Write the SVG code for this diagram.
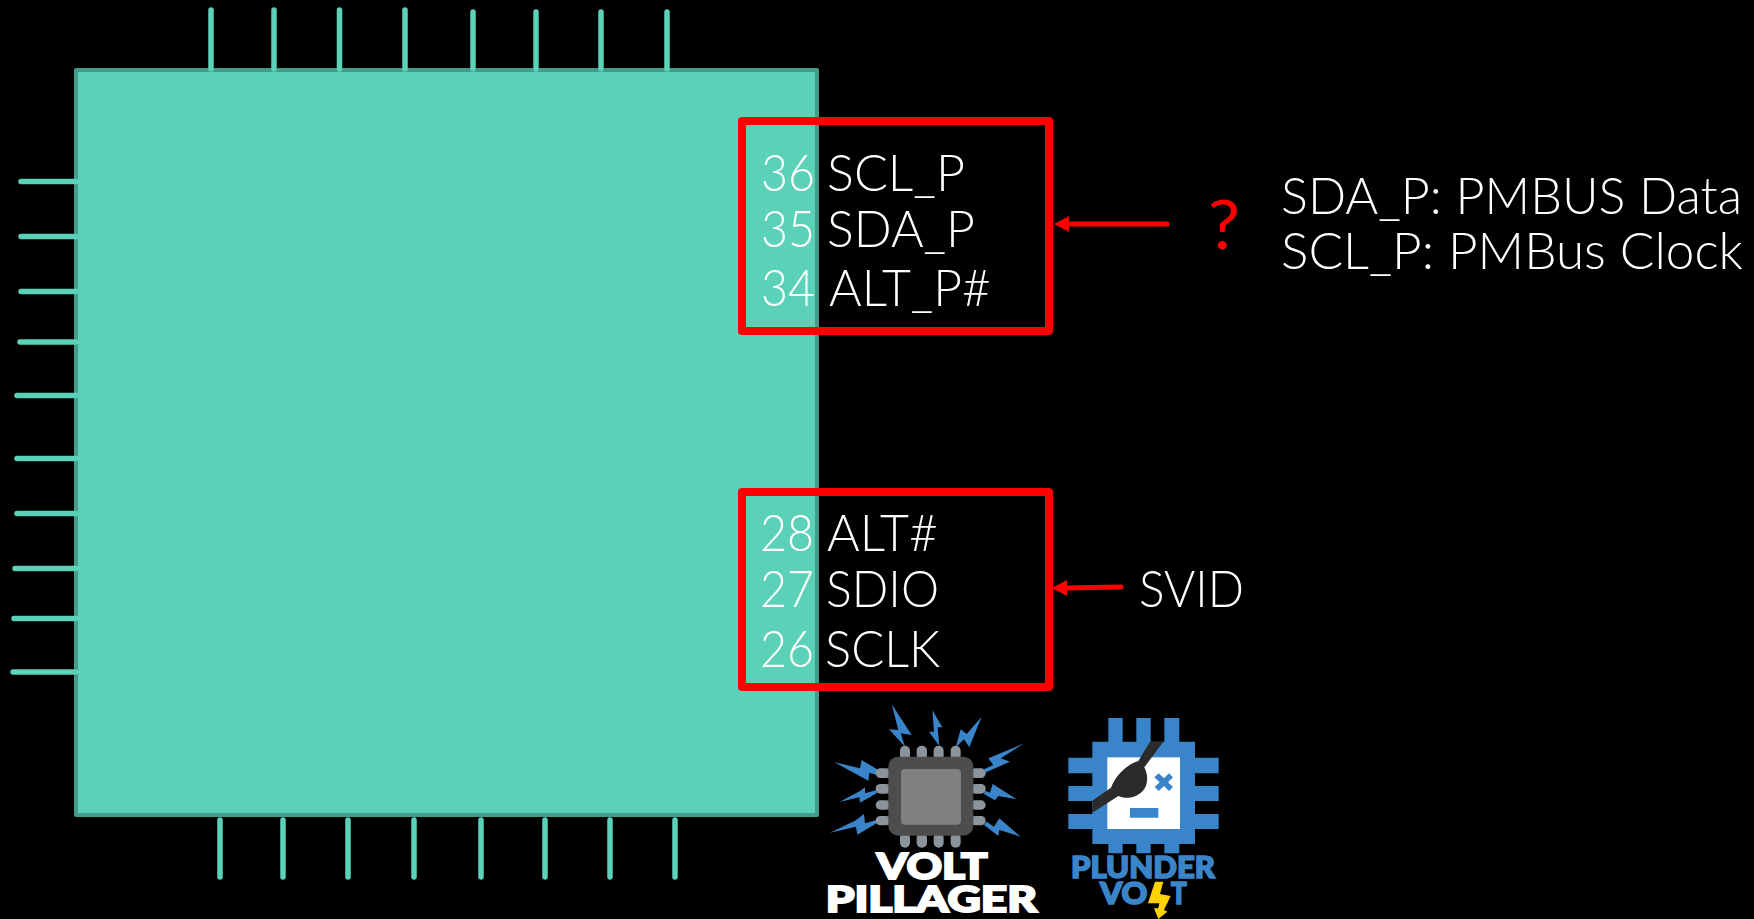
<svg xmlns="http://www.w3.org/2000/svg" width="1754" height="919" viewBox="0 0 1754 919">
<style>
text{font-family:"Lato","Open Sans","Liberation Sans",sans-serif;fill:#fff;font-size:51px;font-weight:300}
.pin{stroke:#5bd1b8;stroke-width:5.500;stroke-linecap:round;fill:none}
.red{stroke:#f00;fill:none}
.b{fill:#3a84c9}
.g{fill:#8c949b}
.k{font-weight:900;font-size:110px}
</style>
<rect width="1754" height="919" fill="#000"/>
<g id="chip">
<rect x="76" y="70" width="741" height="745" fill="#5bd1b8" stroke="#459c8a" stroke-width="4" stroke-linejoin="round"/>
</g>
<g id="pins" class="pin">
<path d="M211 10V69M274 10V69M339.500 10V69M405 10V69M473 12V69M536 12V69M601 12V69M667 12V69"/>
<path d="M220 820V877M283 820V877M348 820V877M414 820V877M481 820V877M545 820V877M610 820V877M675 820V877"/>
<path d="M21 181.500H76M21 236.500H76M21 291.500H76M20 342H76M17 395.500H76M17 458.500H76M17 513.500H76M15 568.500H76M14 618.500H76M13 672H76"/>
</g>
<g id="box-pmbus">
<rect x="742" y="121" width="307" height="210" class="red" stroke-width="8" stroke-linejoin="round"/>
<text x="761" y="191" textLength="54" lengthAdjust="spacingAndGlyphs">36</text>
<text x="761" y="247" textLength="54" lengthAdjust="spacingAndGlyphs">35</text>
<text x="761" y="306" textLength="54" lengthAdjust="spacingAndGlyphs">34</text>
<text x="827" y="191" textLength="138" lengthAdjust="spacingAndGlyphs">SCL_P</text>
<text x="827" y="247" textLength="148" lengthAdjust="spacingAndGlyphs">SDA_P</text>
<text x="829" y="306" textLength="162" lengthAdjust="spacingAndGlyphs">ALT_P#</text>
</g>
<g id="box-svid">
<rect x="742" y="492" width="307" height="195" class="red" stroke-width="8" stroke-linejoin="round"/>
<text x="760" y="551" textLength="54" lengthAdjust="spacingAndGlyphs">28</text>
<text x="760" y="607" textLength="54" lengthAdjust="spacingAndGlyphs">27</text>
<text x="760" y="667" textLength="54" lengthAdjust="spacingAndGlyphs">26</text>
<text x="827" y="551" textLength="111" lengthAdjust="spacingAndGlyphs">ALT#</text>
<text x="826" y="607" textLength="113" lengthAdjust="spacingAndGlyphs">SDIO</text>
<text x="825" y="667" textLength="115" lengthAdjust="spacingAndGlyphs">SCLK</text>
</g>
<g id="connectors">
<path class="red" stroke-width="5" stroke-linecap="round" d="M1167 224H1066"/>
<path fill="#f00" d="M1054 224L1069 216V232Z"/>
<path class="red" stroke-width="5" stroke-linecap="round" d="M1121 587L1066 588"/>
<path fill="#f00" d="M1052 588L1067 580V596Z"/>
</g>
<g id="label-question"><text x="1208" y="249" style="fill:#f00;font-size:68px;font-weight:400" textLength="32" lengthAdjust="spacingAndGlyphs">?</text></g>
<g id="label-svid"><text x="1139" y="607" textLength="105" lengthAdjust="spacingAndGlyphs">SVID</text></g>
<g id="label-pmbus">
<text x="1281" y="214" textLength="461" lengthAdjust="spacingAndGlyphs">SDA_P: PMBUS Data</text>
<text x="1281" y="269" textLength="462" lengthAdjust="spacingAndGlyphs">SCL_P: PMBus Clock</text>
</g>
<g id="logo-voltpillager" transform="translate(810 690) scale(.33333)">
<path class="b" d="M245 42L305 135L272 130L285 170L237 118L265 120ZM367 60L397 112L383 112L388 168L357 125L372 125ZM515 80L478 172L462 148L437 172L452 118L470 132ZM643 160L572 205L600 215L525 248L522 238L550 225L535 205ZM620 328L565 318L555 331L522 312L525 302L540 308L548 282ZM632 440L568 420L565 438L522 405L530 395L552 410L568 385ZM72 216L150 235L155 210L205 240L200 255L178 248L175 272ZM88 336L150 303L165 292L165 310L200 300L200 310L150 338L148 322ZM60 428L135 392L162 372L165 400L200 390L200 400L142 434L138 410Z"/>
<g class="g">
<rect x="270" y="167" width="30" height="45" rx="15"/><rect x="320" y="167" width="31" height="45" rx="15"/><rect x="371" y="167" width="30" height="45" rx="15"/><rect x="422" y="167" width="30" height="45" rx="15"/>
<rect x="270" y="428" width="30" height="45" rx="15"/><rect x="320" y="428" width="31" height="45" rx="15"/><rect x="371" y="428" width="30" height="45" rx="15"/><rect x="422" y="428" width="30" height="45" rx="15"/>
<rect x="197" y="235" width="45" height="29" rx="14"/><rect x="197" y="282" width="45" height="29" rx="14"/><rect x="197" y="331" width="45" height="28" rx="14"/><rect x="197" y="378" width="45" height="28" rx="14"/>
<rect x="482" y="235" width="45" height="29" rx="14"/><rect x="482" y="282" width="45" height="29" rx="14"/><rect x="482" y="331" width="45" height="28" rx="14"/><rect x="482" y="378" width="45" height="28" rx="14"/>
</g>
<rect x="235" y="200" width="255" height="237" rx="30" fill="#4d4d4d"/>
<rect x="273" y="237" width="180" height="167" rx="12" fill="#808080"/>
<text class="k" x="200" y="567" textLength="333" lengthAdjust="spacingAndGlyphs" stroke="#fff" stroke-width="6">VOLT</text>
<text class="k" x="47" y="665" textLength="634" lengthAdjust="spacingAndGlyphs" stroke="#fff" stroke-width="6">PILLAGER</text>
</g>
<g id="logo-plundervolt" transform="translate(810 690) scale(.33333)">
<path class="b" d="M895 84H938V155H979V84H1022V155H1063V84H1108V155H1155V203H1226V250H1155V288H1226V333H1155V372H1226V417H1155V462H1108V490H1063V462H1022V490H979V462H938V490H895V462H847V417H775V372H847V333H775V288H847V250H775V203H847V155H895Z"/>
<rect x="892" y="202" width="218" height="215" fill="#fff"/>
<path class="b" d="M1033 262L1046 250L1062 265L1077 250L1089 262L1074 277L1089 291L1077 303L1062 288L1046 303L1034 291L1049 277ZM960 354H1045V383H960Z"/>
<path fill="#2b2b2b" d="M1020 155H1060L1003 232C1015 255 1015 285 998 303C978 325 945 328 925 318L847 368V332L903 293C915 262 945 225 985 213Z"/>
<text class="k" x="783" y="565" style="font-size:90px;fill:#3a84c9" stroke="#3a84c9" stroke-width="5" textLength="432" lengthAdjust="spacingAndGlyphs">PLUNDER</text>
<text class="k" x="870" y="642" style="font-size:90px;fill:#3a84c9" stroke="#3a84c9" stroke-width="5" textLength="142" lengthAdjust="spacingAndGlyphs">VO</text>
<text class="k" x="1083" y="642" style="font-size:90px;fill:#3a84c9" stroke="#3a84c9" stroke-width="5" textLength="47" lengthAdjust="spacingAndGlyphs">T</text>
<path fill="#ffd200" d="M1035 575H1060L1050 612L1082 618L1062 660L1072 665L1045 687L1032 655H1045L1048 640H1014Z"/>
</g>
</svg>
